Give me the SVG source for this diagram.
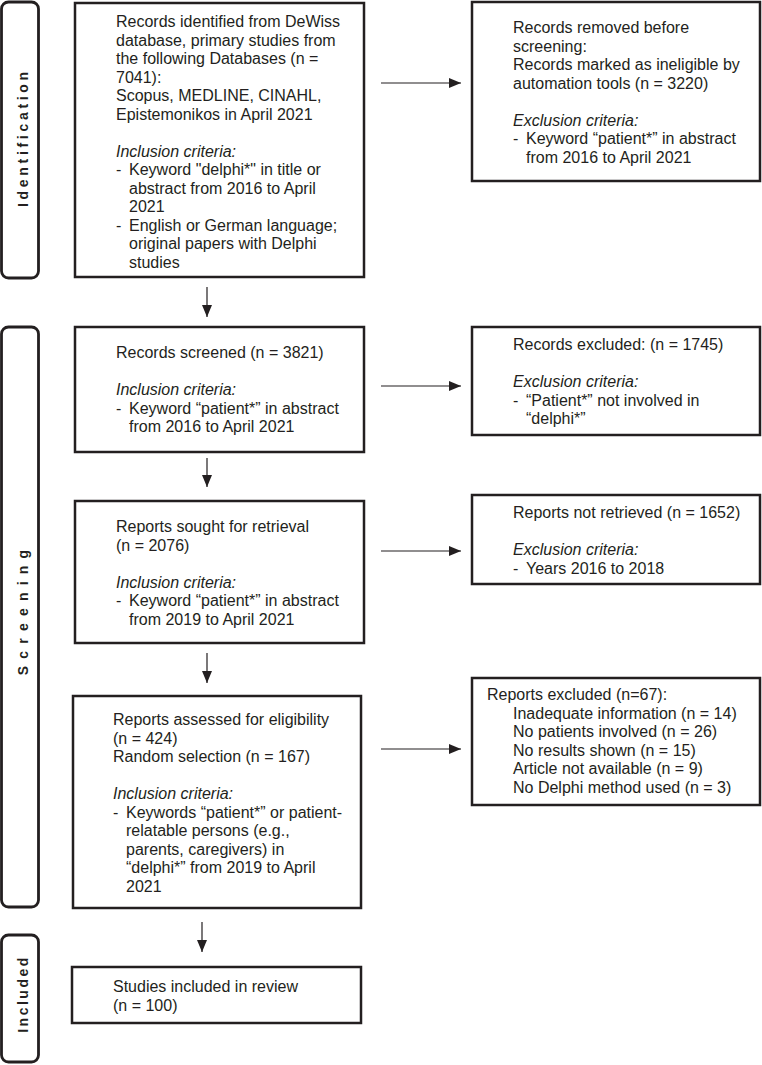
<svg xmlns="http://www.w3.org/2000/svg" width="762" height="1065" viewBox="0 0 762 1065">
<style>
.box{fill:#fff;stroke:#231f20;stroke-width:2.5}
.side{fill:#fff;stroke:#231f20;stroke-width:2.8}
text{font-family:"Liberation Sans",Arial,sans-serif;font-size:16px;fill:#231f20}
.it{font-style:italic}
.lab{font-weight:bold;font-size:14px;text-anchor:middle}
.con{stroke:#231f20;stroke-width:1.2;fill:none}
</style>
<defs>
<marker id="ah" markerWidth="12" markerHeight="10" refX="12" refY="5" orient="auto" markerUnits="userSpaceOnUse">
<path d="M0,0 L12,5 L0,10 z" fill="#231f20"/>
</marker>
</defs>
<rect width="762" height="1065" fill="#fff"/>

<g id="side-identification">
<rect class="side" x="1.5" y="2" width="37" height="276" rx="7"/>
<text class="lab" x="28" y="137.6" transform="rotate(-90 28 137.6)" style="letter-spacing:3.7px">Identification</text>
</g>
<g id="side-screening">
<rect class="side" x="1.5" y="327" width="37" height="580" rx="7"/>
<text class="lab" x="28" y="609" transform="rotate(-90 28 609)" style="letter-spacing:7.2px">Screening</text>
</g>
<g id="side-included">
<rect class="side" x="1.5" y="935" width="37" height="127" rx="7"/>
<text class="lab" x="28" y="994" transform="rotate(-90 28 994)" style="letter-spacing:2.5px">Included</text>
</g>

<g id="n-identified">
<rect class="box" x="75" y="3" width="289" height="274"/>
<text x="116" y="27">Records identified from DeWiss</text>
<text x="116" y="45.5">database, primary studies from</text>
<text x="116" y="64">the following Databases (n =</text>
<text x="116" y="82.5">7041):</text>
<text x="116" y="101">Scopus, MEDLINE, CINAHL,</text>
<text x="116" y="119.5">Epistemonikos in April 2021</text>
<text x="116" y="156.5" class="it">Inclusion criteria:</text>
<text x="116" y="175">-</text><text x="129" y="175">Keyword "delphi*" in title or</text>
<text x="129" y="193.5">abstract from 2016 to April</text>
<text x="129" y="212">2021</text>
<text x="116" y="230.5">-</text><text x="129" y="230.5">English or German language;</text>
<text x="129" y="249">original papers with Delphi</text>
<text x="129" y="267.5">studies</text>
</g>

<g id="n-removed">
<rect class="box" x="472" y="2" width="288" height="179"/>
<text x="513" y="33">Records removed before</text>
<text x="513" y="51.5">screening:</text>
<text x="513" y="70">Records marked as ineligible by</text>
<text x="513" y="88.5">automation tools (n = 3220)</text>
<text x="513" y="125.5" class="it">Exclusion criteria:</text>
<text x="513" y="144">-</text><text x="526" y="144">Keyword “patient*” in abstract</text>
<text x="526" y="162.5">from 2016 to April 2021</text>
</g>

<g id="n-screened">
<rect class="box" x="75" y="327" width="289" height="125"/>
<text x="116" y="358">Records screened (n = 3821)</text>
<text x="116" y="395" class="it">Inclusion criteria:</text>
<text x="116" y="413.5">-</text><text x="129" y="413.5">Keyword “patient*” in abstract</text>
<text x="129" y="432">from 2016 to April 2021</text>
</g>

<g id="n-excluded1">
<rect class="box" x="472" y="327" width="288" height="108"/>
<text x="513" y="350">Records excluded: (n = 1745)</text>
<text x="513" y="387" class="it">Exclusion criteria:</text>
<text x="513" y="405.5">-</text><text x="526" y="405.5">“Patient*” not involved in</text>
<text x="526" y="424">“delphi*”</text>
</g>

<g id="n-sought">
<rect class="box" x="75" y="501" width="289" height="142"/>
<text x="116" y="532">Reports sought for retrieval</text>
<text x="116" y="550.5">(n = 2076)</text>
<text x="116" y="587.5" class="it">Inclusion criteria:</text>
<text x="116" y="606">-</text><text x="129" y="606">Keyword “patient*” in abstract</text>
<text x="129" y="624.5">from 2019 to April 2021</text>
</g>

<g id="n-notretrieved">
<rect class="box" x="472" y="495" width="288" height="89"/>
<text x="513" y="518">Reports not retrieved (n = 1652)</text>
<text x="513" y="555" class="it">Exclusion criteria:</text>
<text x="513" y="573.5">-</text><text x="526" y="573.5">Years 2016 to 2018</text>
</g>

<g id="n-assessed">
<rect class="box" x="73" y="696" width="288" height="212"/>
<text x="113" y="725">Reports assessed for eligibility</text>
<text x="113" y="743.5">(n = 424)</text>
<text x="113" y="762">Random selection (n = 167)</text>
<text x="113" y="799" class="it">Inclusion criteria:</text>
<text x="113" y="817.5">-</text><text x="126" y="817.5">Keywords “patient*” or patient-</text>
<text x="126" y="836">relatable persons (e.g.,</text>
<text x="126" y="854.5">parents, caregivers) in</text>
<text x="126" y="873">“delphi*” from 2019 to April</text>
<text x="126" y="891.5">2021</text>
</g>

<g id="n-excluded2">
<rect class="box" x="472" y="678" width="288" height="127"/>
<text x="487" y="700">Reports excluded (n=67):</text>
<text x="513" y="718.5">Inadequate information (n = 14)</text>
<text x="513" y="737">No patients involved (n = 26)</text>
<text x="513" y="755.5">No results shown (n = 15)</text>
<text x="513" y="774">Article not available (n = 9)</text>
<text x="513" y="792.5">No Delphi method used (n = 3)</text>
</g>

<g id="n-included">
<rect class="box" x="72" y="967" width="289" height="56"/>
<text x="113" y="992">Studies included in review</text>
<text x="113" y="1010.5">(n = 100)</text>
</g>

<g id="connectors">
<line class="con" x1="381" y1="83" x2="461" y2="83" marker-end="url(#ah)"/>
<line class="con" x1="207" y1="287" x2="207" y2="317" marker-end="url(#ah)"/>
<line class="con" x1="381" y1="386" x2="461" y2="386" marker-end="url(#ah)"/>
<line class="con" x1="207" y1="458" x2="207" y2="487" marker-end="url(#ah)"/>
<line class="con" x1="381" y1="551" x2="461" y2="551" marker-end="url(#ah)"/>
<line class="con" x1="207" y1="653" x2="207" y2="683" marker-end="url(#ah)"/>
<line class="con" x1="381" y1="749" x2="461" y2="749" marker-end="url(#ah)"/>
<line class="con" x1="202" y1="922" x2="202" y2="952" marker-end="url(#ah)"/>
</g>
</svg>
